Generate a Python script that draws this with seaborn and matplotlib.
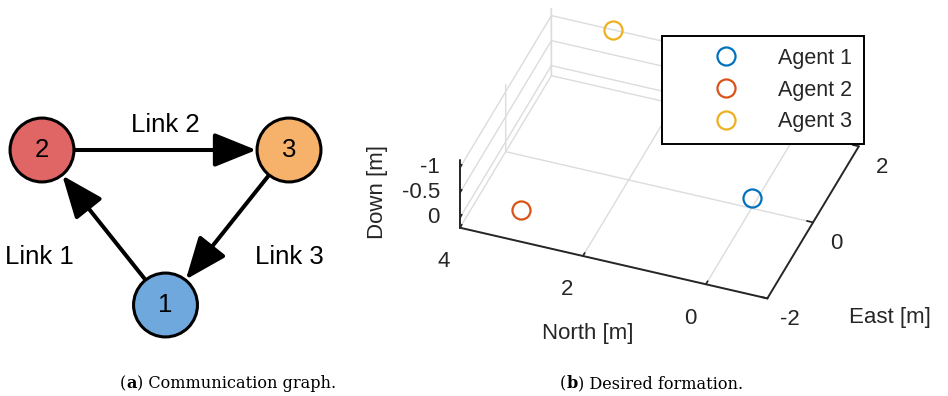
import matplotlib
matplotlib.use("Agg")
import matplotlib.pyplot as plt
from matplotlib.patches import FancyArrowPatch
from matplotlib.transforms import offset_copy
from mpl_toolkits.mplot3d import proj3d
import pandas as pd
import seaborn as sns

# ---- communication graph ----
node_ids = ["1", "2", "3"]
node_colors = ["#6fa8dc", "#e06666", "#f6b26b"]
link_names = ["Link 1", "Link 2", "Link 3"]
link_src = ["1", "2", "3"]
link_dst = ["2", "3", "1"]

# ---- desired formation (NED frame, metres) ----
agent_names = ["Agent 1", "Agent 2", "Agent 3"]
agent_north = [0.0, 3.2, 3.0]
agent_east = [0.0, -1.5, 2.0]
agent_down = [0.0, 0.0, -1.0]
agent_colors = ["#0072BD", "#D95319", "#EDB120"]

north_ticks = [0, 2, 4]
east_ticks = [-2, 0, 2]
down_ticks = [-1, -0.5, 0]

sns.set_theme(style="white")
plt.rcParams["font.family"] = ["Liberation Sans", "DejaVu Sans"]
plt.rcParams["axes.unicode_minus"] = False

W, H = 948, 396
fig = plt.figure(figsize=(W / 100, H / 100), dpi=100)
TXT = "#262626"

# graph layout (triangle) and link label anchors
node_xy = {"1": (0.5, 0.0), "2": (0.0, 1.0), "3": (1.0, 1.0)}
label_xy = {"Link 1": (-0.01, 0.31), "Link 2": (0.5, 1.16), "Link 3": (1.0, 0.31)}

ax_g = fig.add_axes([0, 36 / H, 340 / W, 280 / H])
nodes_df = pd.DataFrame({
    "node": node_ids,
    "x": [node_xy[n][0] for n in node_ids],
    "y": [node_xy[n][1] for n in node_ids],
})
sns.scatterplot(data=nodes_df, x="x", y="y", hue="node",
                palette=dict(zip(node_ids, node_colors)), s=46 ** 2,
                edgecolor="black", linewidth=2.2, legend=False,
                ax=ax_g, zorder=3)
for src, dst in zip(link_src, link_dst):
    ax_g.add_patch(FancyArrowPatch(
        posA=node_xy[src], posB=node_xy[dst],
        arrowstyle="-|>,head_length=26,head_width=10.5", mutation_scale=1,
        shrinkA=0, shrinkB=23.5, lw=2.9, color="black", zorder=2))
for n in node_ids:
    ax_g.text(*node_xy[n], n, ha="center", va="center", fontsize=18.5,
              color="black", zorder=4)
for name in link_names:
    ax_g.text(*label_xy[name], name, ha="center", va="center",
              fontsize=18.5, color="black")
ax_g.set_xlim(-42 / 247, 298 / 247)
ax_g.set_ylim(-55 / 155, 225 / 155)
ax_g.axis("off")

# ---- 3D formation plot ----
ax = fig.add_axes([0.513, 0.176, 0.3555, 0.851], projection="3d")
ax.set_proj_type("ortho")
ax.view_init(elev=38.2, azim=-159.6)
for name, n, e, d, c in zip(agent_names, agent_north, agent_east,
                            agent_down, agent_colors):
    ax.plot([e], [n], [d], ls="none", marker="o", mfc="none", mec=c,
            ms=13, mew=1.6, label=name)
ax.set_xlim(-2, 2)
ax.set_ylim(-1, 4)
ax.set_zlim(0.2, -1.15)
ax.set_box_aspect((4, 5, 1.31), zoom=1.235)
ax.set_xticks(east_ticks)
ax.set_yticks(north_ticks)
ax.set_zticks(down_ticks)
for axis in (ax.xaxis, ax.yaxis, ax.zaxis):
    axis.set_ticklabels([])
ax.grid(True)
for axis in (ax.xaxis, ax.yaxis, ax.zaxis):
    axis.set_pane_color((1, 1, 1, 0))
    axis.pane.set_edgecolor((1, 1, 1, 0))
    axis.line.set_color(TXT)
    axis.line.set_linewidth(1.4)
    axis._axinfo["grid"].update(color="#dcdcdc", linewidth=1.0, linestyle="-")
    axis._axinfo["tick"].update(inward_factor=0.0, outward_factor=0.25)
ax.tick_params(colors=TXT)

# tick labels placed next to the projected tick positions on the box edges
e_lo = ax.get_xlim()[0]
n_lo, n_hi = ax.get_ylim()
z_floor = ax.get_zlim()[0]
M = ax.get_proj()


def tick_labels(points, values, dx, dy, ha):
    tf = offset_copy(ax.transData, fig=fig, x=dx, y=dy, units="dots")
    for (xe, yn, zd), v in zip(points, values):
        px, py, _ = proj3d.proj_transform(xe, yn, zd, M)
        ax.text2D(px, py, f"{v:g}", ha=ha, va="center", fontsize=16,
                  color=TXT, transform=tf)


tick_labels([(e_lo, n_hi, t) for t in down_ticks], down_ticks, -20, 0, "right")
tick_labels([(e_lo, t, z_floor) for t in north_ticks], north_ticks, -16, -34, "center")
tick_labels([(t, n_lo, z_floor) for t in east_ticks], east_ticks, 23, -21, "center")

leg = ax.legend(loc="upper left", bbox_to_anchor=(662 / W, 1 - 36 / H),
                bbox_transform=fig.transFigure, fontsize=15.5, frameon=True,
                fancybox=False, edgecolor="black", borderpad=0.55,
                handlelength=4.86, handletextpad=0.0, labelspacing=0.5,
                borderaxespad=0, numpoints=1)
leg.get_frame().set_linewidth(1.4)
leg.get_frame().set_alpha(1)

fig.text(588 / W, 1 - 333 / H, "North [m]", ha="center", va="center",
         fontsize=16, color=TXT)
fig.text(890 / W, 1 - 317 / H, "East [m]", ha="center", va="center",
         fontsize=16, color=TXT)
fig.text(378 / W, 1 - 192 / H, "Down [m]", ha="center", va="center",
         rotation=90, fontsize=16, color=TXT)

# ---- sub-captions ----
CAP = dict(fontsize=11.6, family="DejaVu Serif", color="black")


def caption(x_px, letter, rest):
    t = fig.text(x_px / W, 8 / H, "(", va="baseline", **CAP)
    t = ax_g.annotate(letter, xy=(1, 0), xycoords=t, va="bottom",
                      fontweight="bold", annotation_clip=False, **CAP)
    ax_g.annotate(") " + rest, xy=(1, 0), xycoords=t, va="bottom",
                  annotation_clip=False, **CAP)


caption(120, "a", "Communication graph.")
caption(560, "b", "Desired formation.")

fig.savefig("out.png", dpi=100)
